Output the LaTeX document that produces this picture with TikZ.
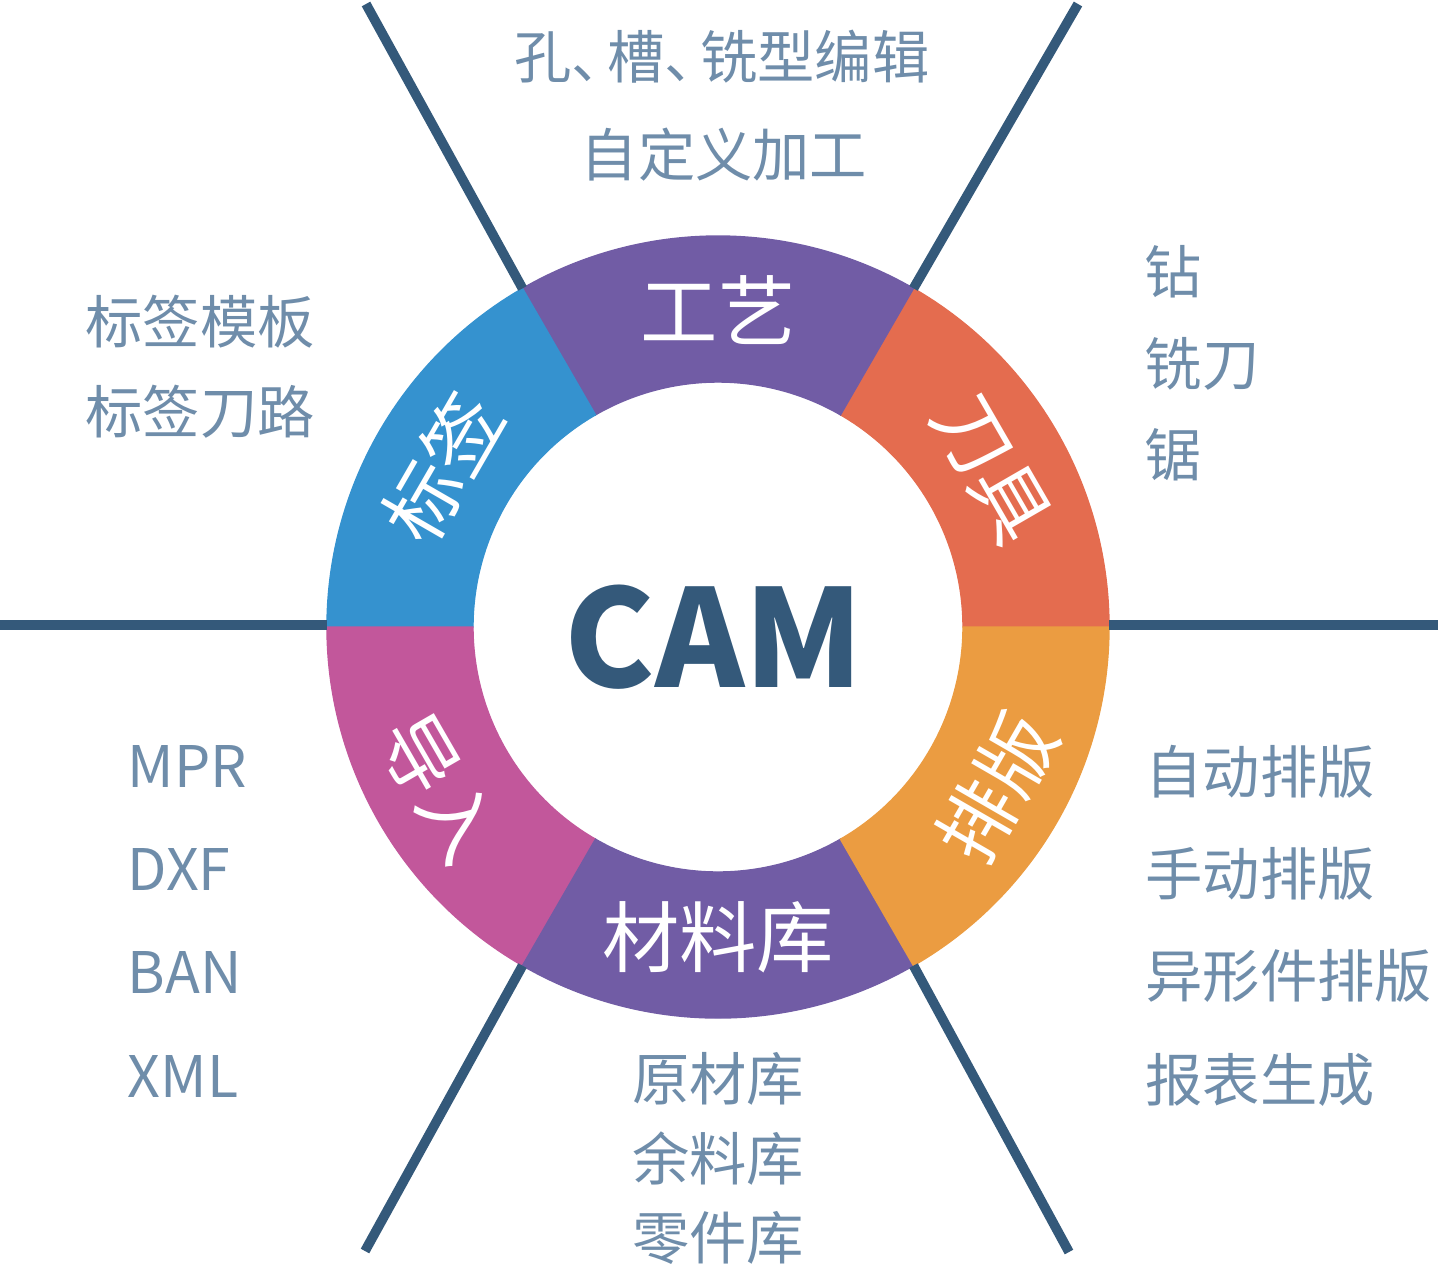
\documentclass[tikz,border=0pt]{standalone}
\usepackage{fontspec}
\setmainfont{Noto Sans CJK SC}
\usetikzlibrary{positioning}

\definecolor{spokeblue}{HTML}{34597A}
\definecolor{itemgray}{HTML}{6F8DAA}
\definecolor{segpurple}{HTML}{715CA5}
\definecolor{segred}{HTML}{E46C4F}
\definecolor{segorange}{HTML}{EB9C41}
\definecolor{segblue}{HTML}{3592CF}
\definecolor{segpink}{HTML}{C2579B}

\tikzset{
  spoke/.style={draw=spokeblue, line width=2.75pt},
  seg/.style={line width=0.4pt},
  seglabel/.style={text=white, inner sep=0pt, font=\fontsize{22}{26}\selectfont},
  item/.style={text=itemgray, inner sep=0pt, anchor=west, font=\fontsize{16.3}{20}\selectfont},
  citem/.style={item, anchor=center},
}

\begin{document}
\begin{tikzpicture}
\useasboundingbox (-7.18,-6.39) rectangle (7.20,6.27);
% ring
\filldraw[seg, fill=segred, draw=segred] (0:2.45) arc (0:60:2.45) -- (60:3.91) arc (60:0:3.91) -- cycle;
\filldraw[seg, fill=segpurple, draw=segpurple] (60:2.45) arc (60:120:2.45) -- (120:3.91) arc (120:60:3.91) -- cycle;
\filldraw[seg, fill=segblue, draw=segblue] (120:2.45) arc (120:180:2.45) -- (180:3.91) arc (180:120:3.91) -- cycle;
\filldraw[seg, fill=segpink, draw=segpink] (180:2.45) arc (180:240:2.45) -- (240:3.91) arc (240:180:3.91) -- cycle;
\filldraw[seg, fill=segpurple, draw=segpurple] (240:2.45) arc (240:300:2.45) -- (300:3.91) arc (300:240:3.91) -- cycle;
\filldraw[seg, fill=segorange, draw=segorange] (300:2.45) arc (300:360:2.45) -- (360:3.91) arc (360:300:3.91) -- cycle;
% spokes
\coordinate (r0) at (3.91,0.02);  \coordinate (e0) at (7.30,0.02);
\coordinate (r1) at (60:3.91);    \coordinate (e1) at (3.60,6.23);
\coordinate (r2) at (120:3.91);   \coordinate (e2) at (-3.52,6.23);
\coordinate (r3) at (-3.91,0.02); \coordinate (e3) at (-7.30,0.02);
\coordinate (r4) at (240:3.91);   \coordinate (e4) at (-3.53,-6.24);
\coordinate (r5) at (300:3.91);   \coordinate (e5) at (3.51,-6.25);
\draw[spoke] (r0) -- (e0);
\draw[spoke] (r1) -- (e1);
\draw[spoke] (r2) -- (e2);
\draw[spoke] (r3) -- (e3);
\draw[spoke] (r4) -- (e4);
\draw[spoke] (r5) -- (e5);
% ring labels
\node[seglabel, rotate=-60] (tool) at (30:3.16) {刀具};
\node[seglabel] (craft) at (90:3.165) {工艺};
\node[seglabel, rotate=60] (tag) at (150:3.18) {标签};
\node[seglabel, rotate=-60] (imp) at (210:3.22) {导入};
\node[seglabel] (mat) at (270:3.10) {材料库};
\node[seglabel, rotate=60] (nest) at (330:3.22) {排版};
\node[text=spokeblue, inner sep=0pt, font=\fontsize{38.5}{46}\selectfont\bfseries] (cam) at (-0.04,-0.10) {CAM};
% outer items
\node[citem] (c1) at (0.04,5.70) {孔{、}\kern-.38em 槽{、}\kern-.38em 铣型编辑};
\node[citem] (c2) at (0.06,4.72) {自定义加工};
\node[item] (t1) at (-6.33,3.05) {标签模板};
\node[item] (t2) at (-6.33,2.15) {标签刀路};
\node[item] (k1) at (4.26,3.55) {钻};
\node[item] (k2) at (4.26,2.63) {铣刀};
\node[item] (k3) at (4.26,1.72) {锯};
\node[item] (n1) at (4.27,-1.45) {自动排版};
\node[item] (n2) at (4.27,-2.47) {手动排版};
\node[item] (n3) at (4.27,-3.49) {异形件排版};
\node[item] (n4) at (4.27,-4.53) {报表生成};
\node[item] (i1) at (-5.91,-1.39) {MPR};
\node[item] (i2) at (-5.91,-2.42) {DXF};
\node[item] (i3) at (-5.91,-3.45) {BAN};
\node[item] (i4) at (-5.91,-4.49) {XML};
\node[citem] (m1) at (0,-4.52) {原材库};
\node[citem] (m2) at (0,-5.32) {余料库};
\node[citem] (m3) at (0,-6.11) {零件库};
\end{tikzpicture}
\end{document}
